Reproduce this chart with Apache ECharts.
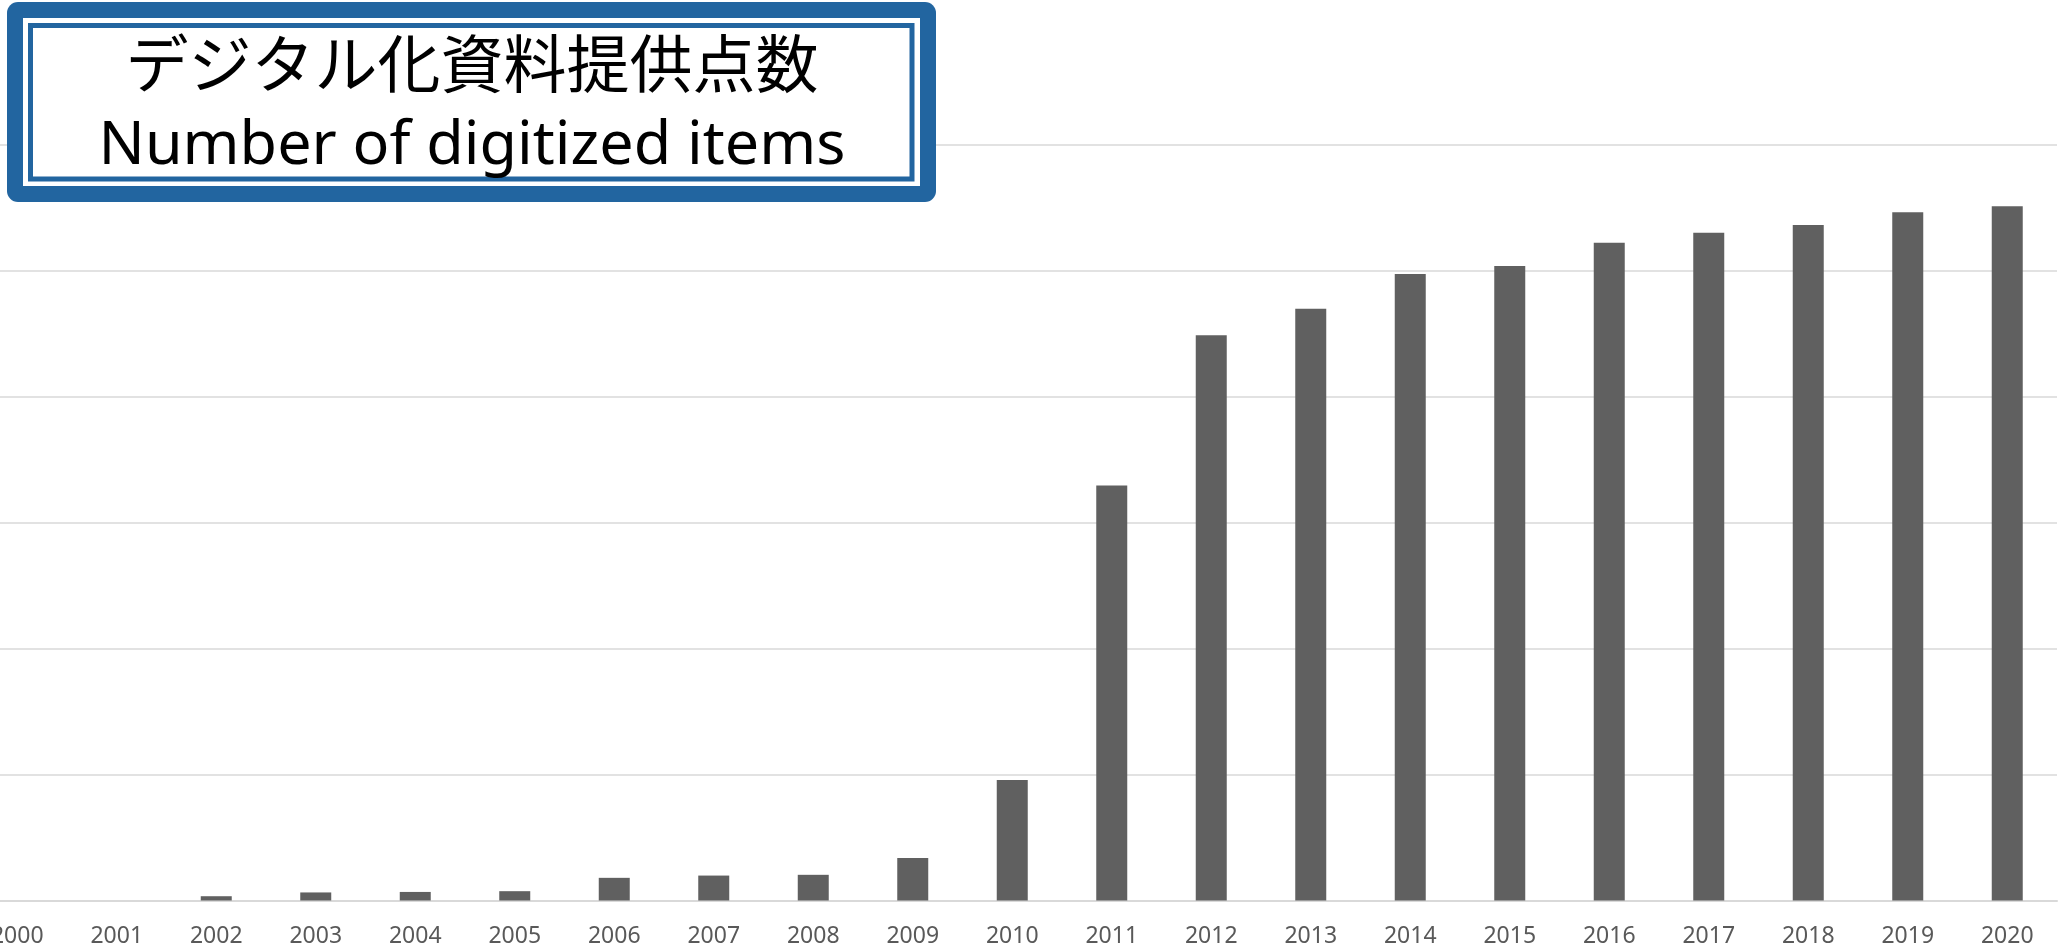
<!DOCTYPE html>
<html>
<head>
<meta charset="utf-8">
<script src="https://cdn.jsdelivr.net/npm/echarts@6/dist/echarts.min.js"></script>
<style>
html,body{margin:0;padding:0;background:#fff;overflow:hidden;width:2070px;height:949px;}
#wrap{position:relative;width:2070px;height:949px;overflow:hidden;}
#chart{position:absolute;left:-33px;top:0;width:2103px;height:949px;}
</style>
</head>
<body>
<div id="wrap"><div id="chart"></div></div>
<script>
const years = ['2000','2001','2002','2003','2004','2005','2006','2007','2008','2009','2010',
  '2011','2012','2013','2014','2015','2016','2017','2018','2019','2020'];
const digitizedItems = [0, 0, 17000, 32000, 34000, 37000, 90000, 99000, 102000, 169000, 478000,
  1648000, 2245000, 2350000, 2488000, 2520000, 2612000, 2652000, 2682000, 2733000, 2757000];
const titleJa = 'デジタル化資料提供点数';
const titleEn = 'Number of digitized items';
const yMax = 3000000;
const yInterval = 500000;

const BLUE = '#2265a0';
const OX = 33; // horizontal offset of the chart canvas inside the page
const chart = echarts.init(document.getElementById('chart'), null, {renderer: 'canvas'});
chart.setOption({
  animation: false,
  backgroundColor: '#ffffff',
  grid: {left: 0.5, right: 13, top: 145, bottom: 48.5, containLabel: false},
  xAxis: {
    type: 'category',
    data: years,
    axisTick: {show: false},
    axisLine: {lineStyle: {color: '#d9d9d9', width: 2}},
    axisLabel: {interval: 0, margin: 24, color: '#595959', fontSize: 23, fontFamily: 'Noto Sans'}
  },
  yAxis: {
    type: 'value',
    min: 0, max: yMax, interval: yInterval,
    axisLabel: {show: false},
    axisLine: {show: false},
    axisTick: {show: false},
    splitLine: {lineStyle: {color: '#d9d9d9', width: 1.5}}
  },
  series: [{
    type: 'bar',
    data: digitizedItems,
    barWidth: 31,
    itemStyle: {color: '#606060'}
  }],
  graphic: [
    {type: 'rect', z: 100, shape: {x: OX + 7, y: 2, width: 929, height: 200, r: 11}, style: {fill: BLUE}},
    {type: 'rect', z: 101, shape: {x: OX + 23, y: 18, width: 897, height: 168}, style: {fill: '#ffffff'}},
    {type: 'rect', z: 102, shape: {x: OX + 30.5, y: 25.5, width: 881.5, height: 153.5}, style: {fill: '#ffffff', stroke: BLUE, lineWidth: 5}},
    {type: 'text', z: 103, x: OX + 472, y: 63, style: {text: titleJa, fill: '#000', font: '63px "Noto Sans CJK JP"', textAlign: 'center', textVerticalAlign: 'middle'}},
    {type: 'text', z: 103, x: OX + 472, y: 147, style: {text: titleEn, fill: '#000', font: '61px "Noto Sans"', textAlign: 'center', textVerticalAlign: 'middle'}}
  ]
});
</script>
</body>
</html>
